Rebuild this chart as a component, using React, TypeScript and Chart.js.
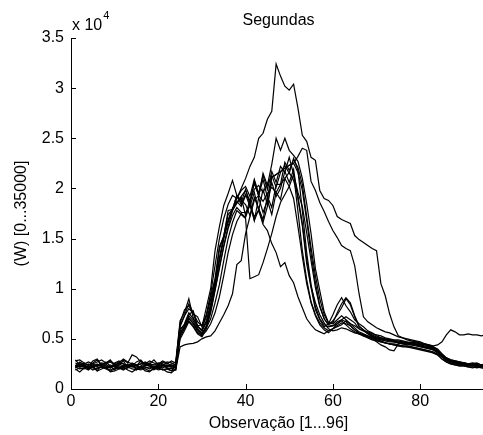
import React, { useEffect, useRef } from "react";
import { Chart, registerables } from "chart.js";

Chart.register(...registerables);

const FONT = '"Liberation Sans", Arial, Helvetica, sans-serif';

const title = "Segundas";
const xTitle = "Observação [1...96]";
const yTitle = "(W) [0...35000]";
const xTickValues = [0, 20, 40, 60, 80];
const yTickValues = [0, 5000, 10000, 15000, 20000, 25000, 30000, 35000];

const observations = Array.from({ length: 96 }, (_, i) => i + 1);

const s1 = [2300,2200,2400,2100,2300,2500,2200,2300,2100,2400,2300,2200,2500,2300,2100,2200,2400,2300,2000,2200,2100,2300,2200,2100,
  5200,6000,6800,6300,5600,5400,6200,7800,9900,12200,14300,16200,17800,19000,20000,
  21000,22200,23100,25000,25500,26900,27700,32400,31200,30200,29800,30400,28000,25300,24700,23100,22800,19800,19000,18800,18300,17200,16900,16700,16500,15300,14900,14600,14300,14000,13800,10500,9300,7500,6200,5300,
  5100,4900,4800,4700,4600,4500,4300,4200,3900,3500,3100,2900,2800,2700,2600,2500,2600,2500,2400,2500,2400];

const s2 = [2100,2300,2200,2000,2200,2400,2300,2100,2200,2300,2000,2100,2300,2200,2400,2100,2200,2000,2300,2200,2400,2100,2000,2200,
  5800,6500,7600,7000,6300,5800,6800,8500,10800,13000,15200,16800,18000,18700,18200,
  19300,18800,19900,20300,19600,20500,21100,21400,21700,22000,22300,22500,23200,24000,23800,20700,19800,18600,17700,16700,15800,15100,14300,14000,13800,12300,9500,7200,6700,6400,6100,
  5900,5700,5600,5400,5200,5100,5000,4900,4800,4700,4500,4400,4200,4000,3500,3100,2900,2800,2700,2600,2500,2500,2600,2400,2400,2300];

const s3 = [2900,2400,2600,2300,2800,3000,2400,2600,2900,2300,2600,3000,2700,2500,2300,2800,2400,2500,2900,2400,2300,2700,2600,2400,
  6200,7300,8000,7600,6300,6400,7200,9300,11000,14200,15200,17800,17900,19300,18600,
  19900,18400,20800,19200,21500,20300,22400,25000,23800,25000,23800,23300,22700,21000,18500,15500,12000,9800,7700,6600,6500,
  6900,7300,6900,6500,6300,6000,5800,5700,5500,5400,5300,5100,5000,4900,4900,4800,4700,4600,4500,4400,4200,4100,3900,3700,3300,3000,2800,2700,2600,2600,2500,2400,2500,2300,2400,2300];

const s4 = [2200,2000,2100,2300,2100,2000,2200,2100,1900,2100,2200,2000,2100,2300,2000,1900,2100,2200,2000,2100,1900,2000,2100,1900,
  4200,4400,4500,4550,4700,5000,5200,5300,5800,6600,7400,8300,9500,12400,12800,
  15500,17200,18800,19300,18700,19500,20100,19600,20400,21000,21600,20800,19200,16500,13000,10200,8600,7400,6600,6000,5800,
  5900,6100,6000,5800,5600,5500,5300,5200,5100,4900,4800,4600,4500,4500,4400,4300,4300,4200,4100,4000,3900,3800,3700,3500,3200,2900,2700,2600,2500,2400,2300,2400,2300,2200,2300,2200];

const s5 = [2800,2900,2600,2400,2500,2700,2900,2600,2800,2500,2700,2900,2600,3400,3200,2700,2500,2800,2600,2400,2700,2500,2800,2600,
  6600,7900,8300,7500,7200,6200,8100,10000,13800,16200,18300,19500,20800,19300,18400,
  19400,18200,19600,17800,19900,18400,20600,19200,20000,21700,20600,21900,18900,16300,12500,10100,7900,6900,6200,6500,7400,
  8400,9100,8300,7700,6900,6500,6200,5800,5600,5300,5100,5000,4900,4800,4700,4600,4500,4500,4400,4300,4200,4100,4000,3800,3400,3000,2800,2700,2600,2500,2400,2500,2400,2300,2200,2300];

const s6 = [2400,2200,2300,2500,2200,2400,2300,2100,2400,2200,2500,2300,2400,2200,2300,2500,2600,2300,2200,2400,2300,2200,2400,2300,
  5500,6300,7300,6800,6000,5600,6100,7000,8600,10400,12800,15000,16600,17800,17400,
  17000,11000,11200,11400,12600,14000,15500,17200,18600,19400,20200,19000,16200,13200,10500,8600,7300,6400,5900,5600,6000,
  6500,6800,6400,6000,5700,5500,5400,5200,5000,4700,4400,4200,3900,3800,4500,4600,4600,4700,4600,4500,4400,4300,4000,3700,3300,2900,2700,2600,2500,2400,2400,2300,2200,2300,2200,2200];

const s7 = [2000,1700,2100,1900,2300,1800,2000,2200,1700,1800,2000,2200,1900,1700,2000,2200,1800,1700,2100,1900,2000,1700,1600,2000,
  5000,5800,6700,6200,5500,5200,6000,7600,9800,12000,14200,16000,17300,18100,17600,
  17600,18300,17200,17800,16400,15800,14500,13600,12200,12600,11300,10600,9200,8100,7000,6400,5900,5700,5500,5800,6000,
  6300,6600,6500,6300,5900,5600,5400,5300,5100,4900,4700,4600,4500,4400,4300,4300,4200,4200,4100,4000,3900,3800,3600,3400,3000,2700,2500,2400,2300,2300,2200,2100,2200,2100,2000,2100];

const s8 = [2200,2400,2300,2100,2400,2200,2500,2300,2200,2400,2100,2300,2200,2400,2300,2100,2300,2400,2200,2100,2300,2400,2200,2300,
  5600,6200,7000,6600,5900,5500,6300,8000,10300,12800,15000,16800,18000,18600,19200,
  19800,18700,20500,19300,20900,19100,21300,20100,21600,22300,21500,23000,21800,17800,13600,10400,8200,7000,6400,6200,6300,
  6500,6900,7200,6900,6600,6000,5800,5500,5300,5100,5000,4900,4900,4800,4800,4700,4600,4600,4700,4600,4500,4400,4300,4400,4700,5400,5900,5700,5400,5400,5500,5400,5400,5300,5400,5400];

const s9 = [2300,2700,2400,2000,2600,2900,2300,2500,2100,2600,2800,2500,2200,2300,2700,2900,2400,2600,2100,2500,2800,2600,2300,2500,
  6000,6400,7400,7800,6200,5900,7300,8900,10600,13900,15300,17400,17900,19300,18800,
  18400,17300,19100,18000,16900,19200,18100,20400,20400,22600,21800,22900,22100,20400,17200,14100,11300,9000,7400,6600,6600,
  7600,8500,9100,8600,7300,6300,5900,5500,5200,5100,5000,4900,4800,4700,4600,4500,4500,4400,4400,4300,4200,4100,4000,3700,3300,2900,2700,2600,2500,2500,2400,2400,2300,2400,2300,2300];

const s10 = [2100,2600,2500,2000,2200,1800,2400,2700,2300,1900,2400,2800,2100,2500,1900,2300,2600,2400,1900,2300,2500,2100,1800,2300,
  6400,7300,8500,7600,6700,6300,7400,9500,12300,15000,17000,18400,19300,19000,19800,
  20200,19200,20900,19500,21300,19900,21700,20600,22200,21600,23100,21400,17700,13800,10900,8700,7400,6600,6100,5800,6000,
  6200,6400,6800,6500,6100,5700,5500,5300,5200,5000,4900,4800,4700,4700,4600,4500,4400,4400,4300,4200,4100,4000,3900,3600,3200,2800,2600,2500,2400,2400,2300,2300,2400,2300,2200,2200];

const s11 = [2600,2400,2500,2700,2500,2300,2600,2500,2700,2400,2600,2500,2300,2600,2400,2500,2700,2500,2400,2600,2500,2300,2500,2700,
  6800,7600,9000,7100,6200,5800,6600,8200,10500,12900,15100,16700,17800,18500,19100,
  17300,18900,16800,19100,17600,18800,17400,19600,18900,21000,20200,21400,19600,18200,15600,12800,10100,8200,7000,6400,6800,
  7400,8100,9000,8400,7200,6200,5900,5600,5400,5200,5100,5000,4900,4800,4700,4700,4600,4500,4500,4400,4300,4200,4100,3900,3400,3000,2800,2700,2600,2500,2500,2400,2500,2400,2400,2300];

const s12 = [1900,2100,2000,2200,1900,2100,2200,2000,1800,2000,2100,1900,2200,2000,1900,2100,2000,1800,2000,2100,1900,2000,1800,1900,
  5400,6100,7100,6500,5800,5300,5800,6500,7600,9200,11300,13600,15400,16700,17500,
  17100,18400,16800,17900,16600,18200,21100,21400,21700,22000,22300,22500,21600,19800,16800,13500,10600,8300,7000,6400,6300,
  6700,6900,6700,6300,5900,5500,5300,5100,4900,4800,4700,4600,4500,4400,4300,4200,4200,4100,4000,3900,3800,3700,3600,3400,3000,2700,2500,2400,2300,2300,2200,2200,2100,2200,2100,2200];

const seriesList = [s1, s2, s3, s4, s5, s6, s7, s8, s9, s10, s11, s12];

const decorPlugin = {
  id: "matlabDecor",
  afterDraw(chart: any) {
    const { ctx, chartArea } = chart;
    const xs = chart.scales.x;
    const ys = chart.scales.y;
    const left = chartArea.left;
    const bottom = chartArea.bottom;
    const top = chartArea.top;
    const right = chartArea.right;
    ctx.save();
    ctx.strokeStyle = "#000";
    ctx.lineWidth = 1;
    ctx.beginPath();
    ctx.moveTo(left + 0.5, top);
    ctx.lineTo(left + 0.5, bottom + 0.5);
    ctx.lineTo(right, bottom + 0.5);
    ctx.stroke();
    ctx.beginPath();
    for (const v of xTickValues) {
      const px = Math.round(xs.getPixelForValue(v)) + 0.5;
      ctx.moveTo(px, bottom);
      ctx.lineTo(px, bottom - 5);
    }
    for (const v of yTickValues) {
      const py = Math.round(ys.getPixelForValue(v)) + 0.5;
      ctx.moveTo(left, py);
      ctx.lineTo(left + 5, py);
    }
    ctx.stroke();

    ctx.fillStyle = "#000";
    const cx = (left + right) / 2 - 2;
    ctx.font = `16px ${FONT}`;
    ctx.textAlign = "center";
    ctx.textBaseline = "alphabetic";
    ctx.fillText(title, cx, 25);
    ctx.fillText(xTitle, cx, 428);

    ctx.textAlign = "left";
    ctx.fillText("x 10", left + 1, 30);
    const w = ctx.measureText("x 10").width;
    ctx.font = `11px ${FONT}`;
    ctx.fillText("4", left + 1 + w + 1, 19);

    ctx.font = `16px ${FONT}`;
    ctx.translate(22, (top + bottom) / 2);
    ctx.rotate(-Math.PI / 2);
    ctx.textAlign = "center";
    ctx.textBaseline = "middle";
    ctx.fillText(yTitle, 0, 0);
    ctx.restore();
  },
};

export default function App() {
  const ref = useRef<HTMLCanvasElement | null>(null);
  useEffect(() => {
    if (!ref.current) return;
    const chart = new Chart(ref.current, {
      type: "line",
      data: {
        datasets: seriesList.map((s, i) => ({
          label: `S${i + 1}`,
          data: s.map((v, j) => ({ x: observations[j], y: v })),
          borderColor: "#000",
          borderWidth: 1.2,
          pointRadius: 0,
          fill: false,
          tension: 0,
        })),
      },
      options: {
        animation: false,
        responsive: false,
        maintainAspectRatio: false,
        devicePixelRatio: 1,
        layout: { padding: { left: 0, right: 5, top: 38, bottom: 0 } },
        plugins: {
          legend: { display: false },
          tooltip: { enabled: false },
          title: { display: false },
        },
        scales: {
          x: {
            type: "linear",
            min: 0,
            max: 96,
            ticks: {
              stepSize: 20,
              includeBounds: false,
              color: "#000",
              font: { family: FONT, size: 16 },
              padding: 3,
              maxRotation: 0,
              autoSkip: false,
            },
            grid: { display: false, drawTicks: false },
            border: { display: false },
            afterFit: (s: any) => {
              s.height = 46;
            },
          },
          y: {
            type: "linear",
            min: 0,
            max: 35000,
            ticks: {
              stepSize: 5000,
              color: "#000",
              font: { family: FONT, size: 16 },
              padding: 7,
              callback: (v: any) => String(Number(v) / 10000),
            },
            grid: { display: false, drawTicks: false },
            border: { display: false },
            afterFit: (s: any) => {
              s.width = 71;
            },
          },
        },
      },
      plugins: [decorPlugin],
    });
    return () => chart.destroy();
  }, []);
  return (
    <div style={{ position: "fixed", left: 0, top: 0, width: 483, height: 435, overflow: "hidden", background: "#fff" }}>
      <canvas ref={ref} width={495} height={435} style={{ width: 495, height: 435, display: "block" }} />
    </div>
  );
}
